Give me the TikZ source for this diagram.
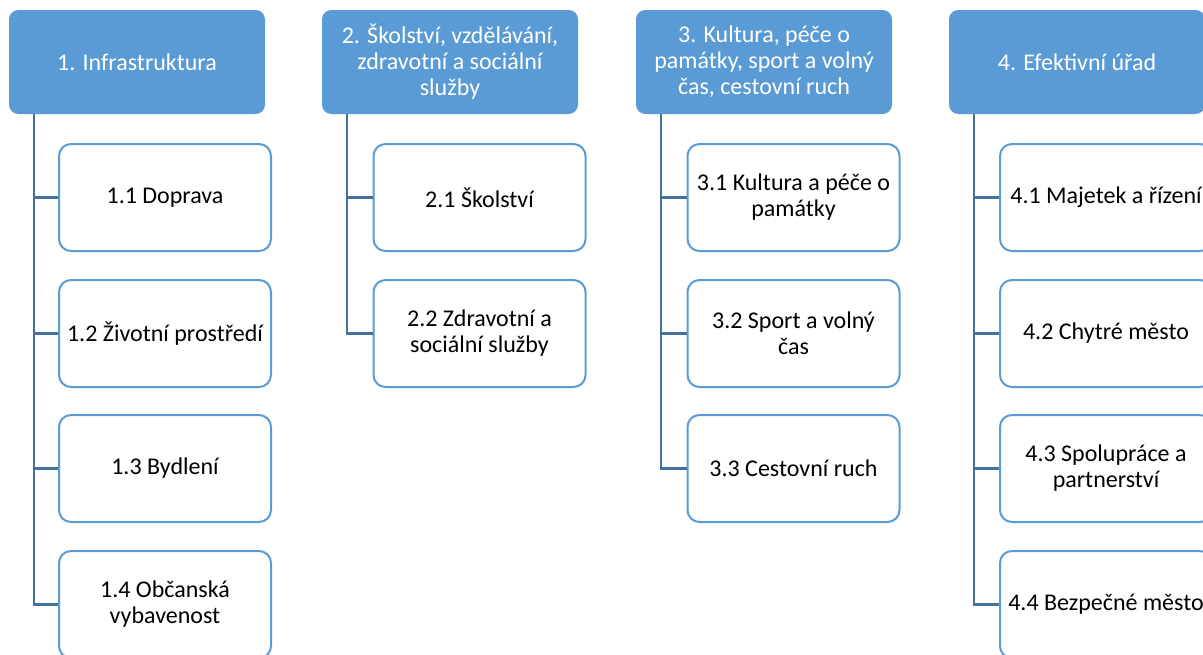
\documentclass[tikz,border=0pt]{standalone}
\usepackage{fontspec}
\setmainfont{Carlito}
\usepackage{tikz}
\definecolor{headblue}{HTML}{5B9BD5}
\definecolor{linkblue}{HTML}{41719C}
\tikzset{
    head/.style={rectangle, rounded corners=7pt, fill=headblue, draw=none, text=white,
        minimum width=192pt, minimum height=78pt, align=center, inner sep=2pt,
        font=\fontsize{18}{19.5}\selectfont},
    item/.style={rectangle, rounded corners=9pt, draw=headblue, fill=white, line width=1.5pt,
        minimum width=159pt, minimum height=80.25pt, align=center, inner sep=2pt,
        font=\fontsize{18}{19.5}\selectfont},
    link/.style={draw=linkblue, line width=1.6pt}
}
\begin{document}
\begin{tikzpicture}[x=0.75pt, y=-0.75pt]
\useasboundingbox (0,0) rectangle (1203,654);
\clip (0,0) rectangle (1203,654);

\node[head] at (137,62) (h1) {1. Infrastruktura};
\node[item] at (165,197.5) (c11) {1.1 Doprava};
\node[item] at (165,333.5) (c12) {1.2 Životní prostředí};
\node[item] at (165,468.5) (c13) {1.3 Bydlení};
\node[item] at (165,604.5) (c14) {1.4 Občanská\\vybavenost};
\coordinate (t1) at (34,114);
\draw[link] (t1) |- (c11.west);
\draw[link] (t1) |- (c12.west);
\draw[link] (t1) |- (c13.west);
\draw[link] (t1) |- (c14.west);

\node[head] at (450,62) (h2) {2. Školství, vzdělávání,\\zdravotní a sociální\\služby};
\node[item] at (479.5,197.5) (c21) {2.1 Školství};
\node[item] at (479.5,333.5) (c22) {2.2 Zdravotní a\\sociální služby};
\coordinate (t2) at (347,114);
\draw[link] (t2) |- (c21.west);
\draw[link] (t2) |- (c22.west);

\node[head] at (764,62) (h3) {3. Kultura, péče o\\památky, sport a volný\\čas, cestovní ruch};
\node[item] at (793.5,197.5) (c31) {3.1 Kultura a péče o\\památky};
\node[item] at (793.5,333.5) (c32) {3.2 Sport a volný\\čas};
\node[item] at (793.5,468.5) (c33) {3.3 Cestovní ruch};
\coordinate (t3) at (661,114);
\draw[link] (t3) |- (c31.west);
\draw[link] (t3) |- (c32.west);
\draw[link] (t3) |- (c33.west);

\node[head] at (1077,62) (h4) {4. Efektivní úřad};
\node[item] at (1106,197.5) (c41) {4.1 Majetek a řízení};
\node[item] at (1106,333.5) (c42) {4.2 Chytré město};
\node[item] at (1106,468.5) (c43) {4.3 Spolupráce a\\partnerství};
\node[item] at (1106,604.5) (c44) {4.4 Bezpečné město};
\coordinate (t4) at (974,114);
\draw[link] (t4) |- (c41.west);
\draw[link] (t4) |- (c42.west);
\draw[link] (t4) |- (c43.west);
\draw[link] (t4) |- (c44.west);
\end{tikzpicture}
\end{document}
